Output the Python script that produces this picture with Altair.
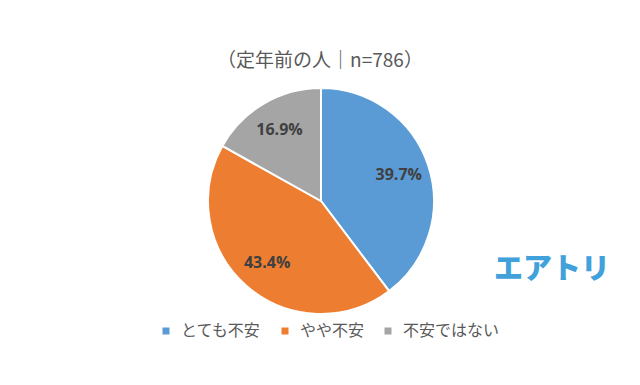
import altair as alt
import pandas as pd

categories = ["とても不安", "やや不安", "不安ではない"]
values = [39.7, 43.4, 16.9]
labels = ["39.7%", "43.4%", "16.9%"]
colors = ["#5B9BD5", "#ED7D31", "#A5A5A5"]
title_text = "（定年前の人｜n=786）"
logo_text = "エアトリ"

df = pd.DataFrame({"category": categories, "value": values, "label": labels, "order": [0, 1, 2]})

CX, CY, R = 313, 193, 113
JP = "Noto Sans CJK JP"

base = alt.Chart(df).encode(
    theta=alt.Theta("value:Q", stack=True),
    order=alt.Order("order:Q"),
)

pie = base.mark_arc(outerRadius=R, stroke="white", strokeWidth=2).encode(
    x=alt.value(CX), y=alt.value(CY),
    color=alt.Color(
        "category:N",
        scale=alt.Scale(domain=categories, range=colors),
        legend=alt.Legend(
            orient="none", legendX=150, legendY=315, direction="horizontal",
            title=None, symbolType="square", symbolSize=49, symbolStrokeWidth=0,
            labelFontSize=16, labelFont=JP, labelColor="#595959",
            columnPadding=15, labelOffset=7,
        ),
        sort=categories,
    ),
)

text = base.mark_text(radius=82, fontSize=16, fontWeight="bold", color="#404040", font="Open Sans").encode(
    x=alt.value(CX), y=alt.value(CY), text="label:N"
)

title = alt.Chart(pd.DataFrame({"t": [title_text]})).mark_text(
    fontSize=19, font=JP, color="#595959", align="center", baseline="middle"
).encode(text="t:N", x=alt.value(312), y=alt.value(53))

logo = alt.Chart(pd.DataFrame({"t": [logo_text]})).mark_text(
    fontSize=29, font=JP, fontWeight=900, color="#41A1DB", align="left", baseline="middle"
).encode(text="t:N", x=alt.value(486), y=alt.value(262))

chart = alt.layer(pie, text, title, logo).properties(
    width=624, height=369, autosize=alt.AutoSizeParams(type="none"), padding=0
).configure_view(stroke=None)

chart.save("out.html", embed_options={"renderer": "svg", "actions": False})
